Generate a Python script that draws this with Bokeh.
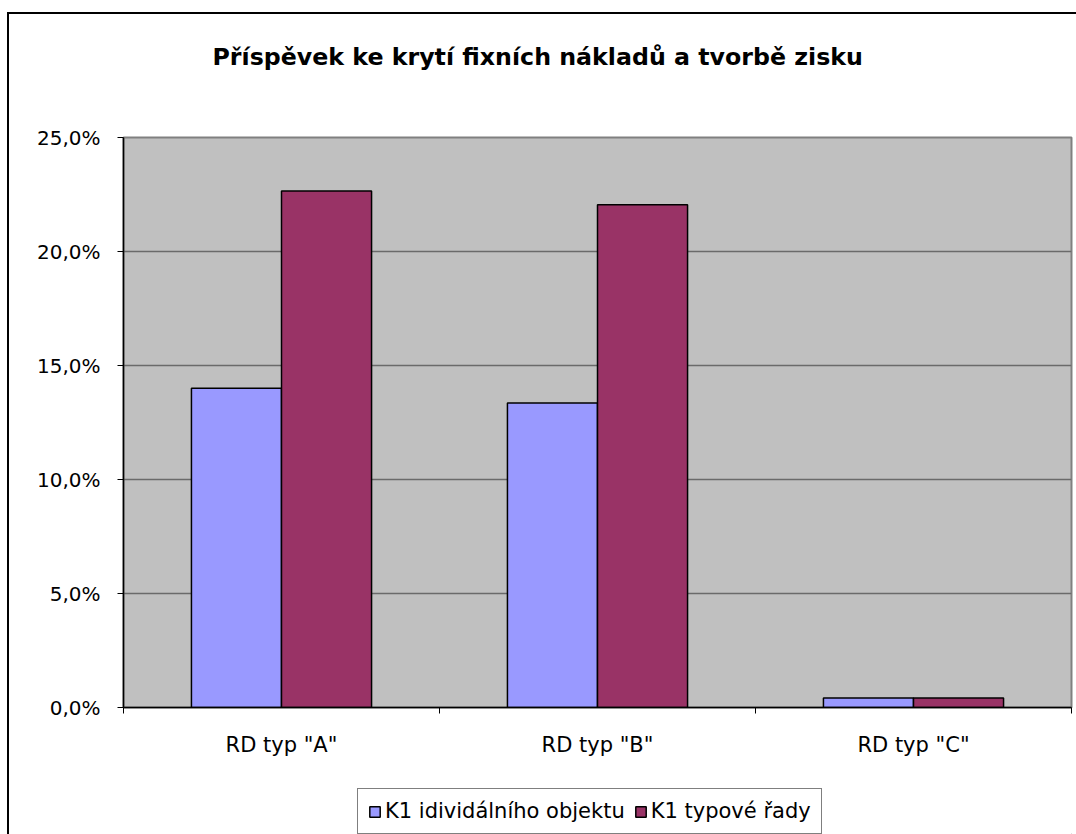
from bokeh.plotting import figure
from bokeh.layouts import column
from bokeh.models import (Range1d, FixedTicker, Legend, LegendItem, ColumnDataSource,
                          Title)
from bokeh.transform import dodge
from bokeh.embed import file_html
from bokeh.resources import INLINE

# ---------------- data ----------------
title_text = "Příspěvek ke krytí fixních nákladů a tvorbě zisku"
categories = ['RD typ "A"', 'RD typ "B"', 'RD typ "C"']
series_names = ["K1 idividálního objektu", "K1 typové řady"]
series_colors = ["#9999FF", "#993366"]
k1_individual = [14.0, 13.35, 0.42]   # percent
k1_series = [22.65, 22.05, 0.42]      # percent
y_ticks = [0, 5, 10, 15, 20, 25]
y_tick_labels = ["0,0%", "5,0%", "10,0%", "15,0%", "20,0%", "25,0%"]

FONT = "DejaVu Sans"

n = len(categories)
centers = [i + 0.5 for i in range(n)]          # category slot centres on a 0..n scale
src = ColumnDataSource(dict(cat=categories, xc=centers, a=k1_individual, b=k1_series))

# ---------------- main chart ----------------
p = figure(x_range=Range1d(0, n), y_range=Range1d(0, 25),
           width=1067, height=753, output_backend="svg", toolbar_location=None,
           min_border_left=114, min_border_right=5,
           min_border_top=123, min_border_bottom=60,
           background_fill_color="#C0C0C0", border_fill_color="white")
p.title = None

p.outline_line_color = "#808080"
p.outline_line_width = 2

# bars
r1 = p.vbar(x=dodge("xc", -0.1425), top="a", width=0.285,
            source=src, fill_color=series_colors[0], line_color="black", line_width=1.5)
r2 = p.vbar(x=dodge("xc", 0.1425), top="b", width=0.285,
            source=src, fill_color=series_colors[1], line_color="black", line_width=1.5)

# y axis
yax = p.yaxis[0]
yax.ticker = FixedTicker(ticks=y_ticks, minor_ticks=[])
yax.major_label_overrides = {t: l for t, l in zip(y_ticks, y_tick_labels)}
yax.major_tick_out = 6
yax.major_tick_in = 0
yax.minor_tick_line_color = None
yax.axis_line_color = "black"
yax.axis_line_width = 1.5
yax.major_tick_line_color = "black"
yax.major_label_standoff = 17
yax.major_label_text_font = FONT
yax.major_label_text_font_size = "20px"
yax.major_label_text_color = "black"

# grid
p.ygrid.ticker = FixedTicker(ticks=y_ticks)
p.ygrid.grid_line_color = "#6a6a6a"
p.ygrid.grid_line_width = 1.5
p.xgrid.visible = False

# x axis: labels at category centres, ticks at category boundaries
xax = p.xaxis[0]
xax.ticker = FixedTicker(ticks=centers, minor_ticks=list(range(n + 1)))
xax.major_label_overrides = {c: lab for c, lab in zip(centers, categories)}
xax.major_tick_line_color = None
xax.major_tick_out = 0
xax.major_tick_in = 0
xax.minor_tick_out = 6
xax.minor_tick_in = 0
xax.minor_tick_line_color = "black"
xax.axis_line_color = "black"
xax.axis_line_width = 1.5
xax.major_label_standoff = 19
xax.major_label_text_font = FONT
xax.major_label_text_font_size = "21px"
xax.major_label_text_color = "black"

# title: a thin spacer next to the frame, the real title above it
spacer = Title(text=" ", text_font_size="1px", standoff=64)
p.add_layout(spacer, "above")
main_title = Title(text=title_text, align="left", offset=89, standoff=0,
                   text_font=FONT, text_font_size="23.7px", text_font_style="bold",
                   text_color="black")
p.add_layout(main_title, "above")

# ---------------- legend strip ----------------
p2 = figure(x_range=Range1d(0, 1), y_range=Range1d(0, 1),
            width=1067, height=67, output_backend="svg", toolbar_location=None,
            x_axis_location=None, y_axis_location=None, min_border=0,
            background_fill_color="white", border_fill_color="white")
p2.title = None
p2.outline_line_color = None
p2.xgrid.visible = False
p2.ygrid.visible = False
# legend-key renderers (placed outside the visible range, only their style is used)
k1 = p2.vbar(x=[5], top=[0], width=0.1, fill_color=series_colors[0], line_color="black",
             line_width=1.5)
k2 = p2.vbar(x=[5], top=[0], width=0.1, fill_color=series_colors[1], line_color="black",
             line_width=1.5)

legend = Legend(items=[LegendItem(label=series_names[0], renderers=[k1]),
                       LegendItem(label=series_names[1], renderers=[k2])],
                orientation="horizontal", location=(234, 0), margin=0,
                border_line_color="black", border_line_width=1,
                background_fill_color="white", background_fill_alpha=1,
                glyph_width=13, glyph_height=13, label_standoff=4, spacing=9,
                padding=10, label_text_font=FONT, label_text_font_size="21px",
                label_text_color="black")
p2.add_layout(legend)

layout = column(p, p2, spacing=0)
layout.styles = {"margin-left": "7px", "margin-top": "12px",
                 "border-left": "2px solid black", "border-top": "2px solid black"}

open("out.html", "w").write(file_html(layout, INLINE))
